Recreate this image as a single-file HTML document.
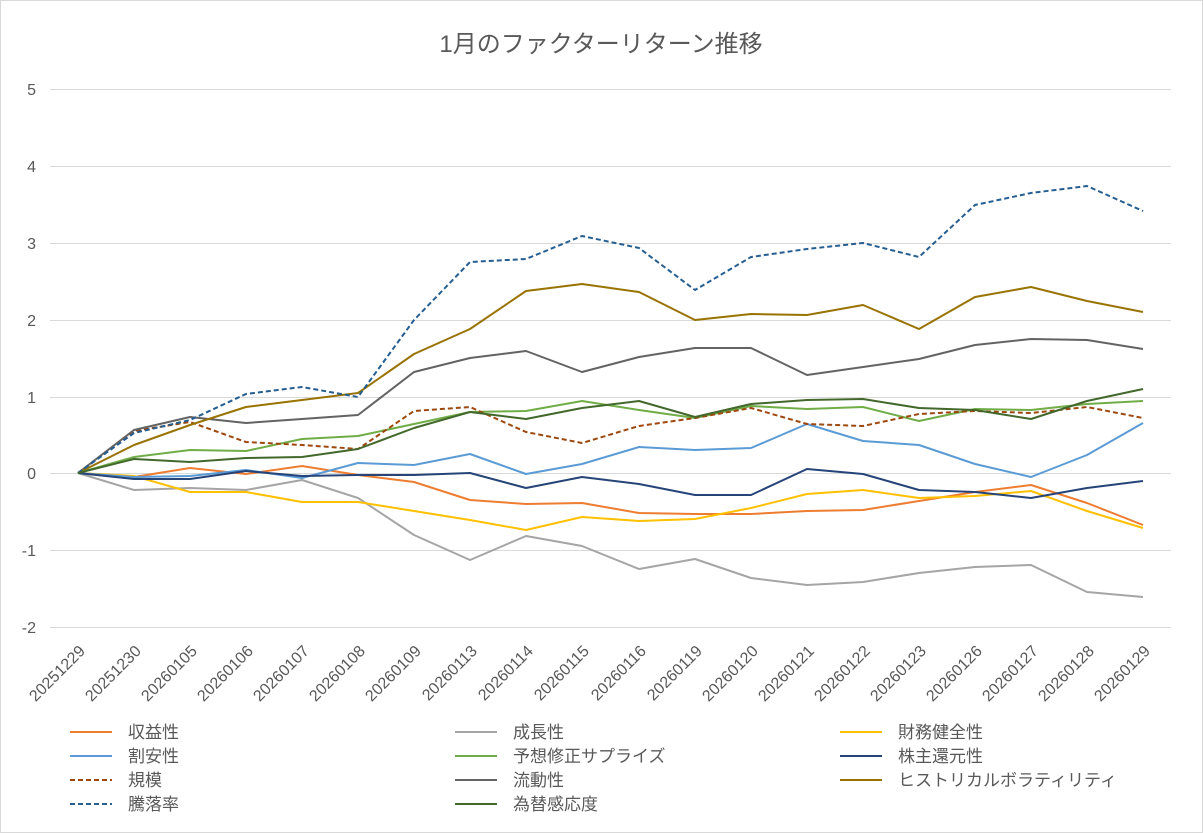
<!DOCTYPE html>
<html><head><meta charset="utf-8"><style>
body{margin:0;background:#fff;}
svg{display:block;font-family:"Liberation Sans","Noto Sans CJK JP",sans-serif;}
</style></head><body>
<svg width="1203" height="833" viewBox="0 0 1203 833">
<rect x="0.5" y="0.5" width="1202" height="832" fill="#fff" stroke="#d9d9d9"/>
<text x="601" y="52" text-anchor="middle" font-size="24" fill="#595959">1月のファクターリターン推移</text>
<g stroke="#d9d9d9" stroke-width="1">
<line x1="50" x2="1171" y1="89.5" y2="89.5"/><line x1="50" x2="1171" y1="166.5" y2="166.5"/>
<line x1="50" x2="1171" y1="243.5" y2="243.5"/><line x1="50" x2="1171" y1="320.5" y2="320.5"/>
<line x1="50" x2="1171" y1="397.5" y2="397.5"/><line x1="50" x2="1171" y1="473.5" y2="473.5"/>
<line x1="50" x2="1171" y1="550.5" y2="550.5"/><line x1="50" x2="1171" y1="627.5" y2="627.5"/>
</g>
<g font-size="16" fill="#595959" text-anchor="end">
<text x="36" y="95">5</text><text x="36" y="172">4</text><text x="36" y="249">3</text><text x="36" y="326">2</text>
<text x="36" y="403">1</text><text x="36" y="479">0</text><text x="36" y="556">-1</text><text x="36" y="633">-2</text>
</g>
<g font-size="16" fill="#595959" text-anchor="end">
<text transform="translate(86,652) rotate(-45)">20251229</text>
<text transform="translate(142,652) rotate(-45)">20251230</text>
<text transform="translate(198,652) rotate(-45)">20260105</text>
<text transform="translate(254,652) rotate(-45)">20260106</text>
<text transform="translate(310,652) rotate(-45)">20260107</text>
<text transform="translate(366,652) rotate(-45)">20260108</text>
<text transform="translate(422,652) rotate(-45)">20260109</text>
<text transform="translate(478,652) rotate(-45)">20260113</text>
<text transform="translate(534,652) rotate(-45)">20260114</text>
<text transform="translate(590,652) rotate(-45)">20260115</text>
<text transform="translate(647,652) rotate(-45)">20260116</text>
<text transform="translate(703,652) rotate(-45)">20260119</text>
<text transform="translate(759,652) rotate(-45)">20260120</text>
<text transform="translate(815,652) rotate(-45)">20260121</text>
<text transform="translate(871,652) rotate(-45)">20260122</text>
<text transform="translate(927,652) rotate(-45)">20260123</text>
<text transform="translate(983,652) rotate(-45)">20260126</text>
<text transform="translate(1039,652) rotate(-45)">20260127</text>
<text transform="translate(1095,652) rotate(-45)">20260128</text>
<text transform="translate(1151,652) rotate(-45)">20260129</text>
</g>
<g fill="none" stroke-width="2" stroke-linejoin="round">
<polyline stroke="#A5A5A5" points="78,473 134,490 190,488 246,490 302,480 358,498 414,535 470,560 526,536 582,546 639,569 695,559 751,578 807,585 863,582 919,573 975,567 1031,565 1087,592 1143,597"/>
<polyline stroke="#ED7D31" points="78,473 134,477 190,468 246,474 302,466 358,475 414,482 470,500 526,504 582,503 639,513 695,514 751,514 807,511 863,510 919,501 975,492 1031,485 1087,503 1143,525"/>
<polyline stroke="#FFC000" points="78,473 134,476 190,492 246,492 302,502 358,502 414,511 470,520 526,530 582,517 639,521 695,519 751,508 807,494 863,490 919,498 975,496 1031,491 1087,511 1143,528"/>
<polyline stroke="#5B9BD5" points="78,473 134,477 190,476 246,470 302,478 358,463 414,465 470,454 526,474 582,464 639,447 695,450 751,448 807,424 863,441 919,445 975,464 1031,477 1087,455 1143,423"/>
<polyline stroke="#70AD47" points="78,473 134,457 190,450 246,451 302,439 358,436 414,424 470,412 526,411 582,401 639,410 695,418 751,406 807,409 863,407 919,421 975,409 1031,410 1087,404 1143,401"/>
<polyline stroke="#264478" points="78,473 134,479 190,479 246,471 302,476 358,475 414,475 470,473 526,488 582,477 639,484 695,495 751,495 807,469 863,474 919,490 975,492 1031,498 1087,488 1143,481"/>
<polyline stroke="#9E480E" stroke-dasharray="5,3" points="78,473 134,431 190,422 246,442 302,445 358,449 414,411 470,407 526,432 582,443 639,426 695,418 751,408 807,424 863,426 919,414 975,411 1031,413 1087,407 1143,418"/>
<polyline stroke="#636363" points="78,473 134,430 190,417 246,423 302,419 358,415 414,372 470,358 526,351 582,372 639,357 695,348 751,348 807,375 863,367 919,359 975,345 1031,339 1087,340 1143,349"/>
<polyline stroke="#997300" points="78,473 134,445 190,425 246,407 302,400 358,393 414,354 470,329 526,291 582,284 639,292 695,320 751,314 807,315 863,305 919,329 975,297 1031,287 1087,301 1143,312"/>
<polyline stroke="#255E91" stroke-dasharray="5,3" points="78,473 134,433 190,420 246,394 302,387 358,397 414,320 470,262 526,259 582,236 639,248 695,290 751,257 807,249 863,243 919,257 975,205 1031,193 1087,186 1143,211"/>
<polyline stroke="#43682B" points="78,473 134,459 190,462 246,458 302,457 358,449 414,428 470,412 526,419 582,408 639,401 695,417 751,404 807,400 863,399 919,408 975,410 1031,419 1087,401 1143,389"/>
</g>
<g font-size="17" fill="#595959" stroke-width="2">
<line x1="70" x2="112" y1="732" y2="732" stroke="#ED7D31"/><text x="128" y="738">収益性</text>
<line x1="455" x2="497" y1="732" y2="732" stroke="#A5A5A5"/><text x="513" y="738">成長性</text>
<line x1="840" x2="882" y1="732" y2="732" stroke="#FFC000"/><text x="898" y="738">財務健全性</text>
<line x1="70" x2="112" y1="756" y2="756" stroke="#5B9BD5"/><text x="128" y="762">割安性</text>
<line x1="455" x2="497" y1="756" y2="756" stroke="#70AD47"/><text x="513" y="762">予想修正サプライズ</text>
<line x1="840" x2="882" y1="756" y2="756" stroke="#264478"/><text x="898" y="762">株主還元性</text>
<line x1="70" x2="112" y1="780" y2="780" stroke="#9E480E" stroke-dasharray="5,3"/><text x="128" y="786">規模</text>
<line x1="455" x2="497" y1="780" y2="780" stroke="#636363"/><text x="513" y="786">流動性</text>
<line x1="840" x2="882" y1="780" y2="780" stroke="#997300"/><text x="898" y="786">ヒストリカルボラティリティ</text>
<line x1="70" x2="112" y1="804" y2="804" stroke="#255E91" stroke-dasharray="5,3"/><text x="128" y="810">騰落率</text>
<line x1="455" x2="497" y1="804" y2="804" stroke="#43682B"/><text x="513" y="810">為替感応度</text>
</g>
</svg>
</body></html>
